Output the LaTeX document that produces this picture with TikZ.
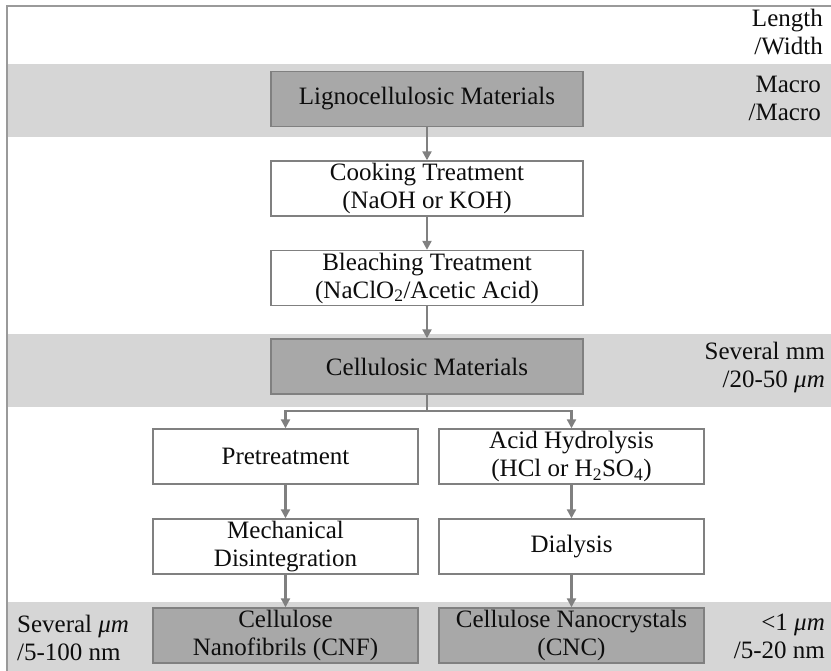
\documentclass[tikz,border=0pt]{standalone}
\usepackage{fontspec}
\setmainfont{Liberation Serif}
\usetikzlibrary{arrows.meta}
\definecolor{bandgray}{HTML}{D6D6D6}
\definecolor{darkbox}{HTML}{A8A8A8}
\definecolor{edgegray}{HTML}{808080}
\definecolor{framegray}{HTML}{9A9A9A}
\definecolor{txt}{HTML}{0D0D0D}
\begin{document}
\begin{tikzpicture}[x=1pt,y=-1pt,
  every node/.style={font=\fontsize{25}{28}\selectfont, text=txt},
  boxbase/.style={draw=edgegray, line width=1.4pt, align=center, inner sep=0pt, minimum height=55pt},
  mainbox/.style={boxbase, minimum width=312pt},
  colbox/.style={boxbase, minimum width=265pt},
  whitebox/.style={fill=white},
  graybox/.style={fill=darkbox},
  flow/.style={draw=edgegray, line width=2.2pt, -{Triangle[length=9pt,width=9pt]}},
  flowline/.style={draw=edgegray, line width=2.2pt},
  sidelabel/.style={inner sep=0pt, align=right, anchor=east},
  leftlabel/.style={inner sep=0pt, align=left, anchor=west}
]
\useasboundingbox (0,0) rectangle (831,671);
\fill[white] (0,0) rectangle (831,671);
% bands
\fill[bandgray] (7,64) rectangle (831,137);
\fill[bandgray] (7,334) rectangle (831,407);
\fill[bandgray] (7,602) rectangle (831,671);
% frame
\draw[framegray, line width=1.5pt] (7,671) -- (7,6) -- (831,6);

% nodes
\node[mainbox, graybox] (lig) at (427,99) {Lignocellulosic Materials};
\node[mainbox, whitebox] (cook) at (427,188.5) {Cooking Treatment\\(NaOH or KOH)};
\node[mainbox, whitebox] (bleach) at (427,278) {Bleaching Treatment\\(NaClO\textsubscript{2}/Acetic Acid)};
\node[mainbox, graybox] (cell) at (427,366.5) {Cellulosic Materials};
\node[colbox, whitebox] (pre) at (285.5,456.5) {Pretreatment};
\node[colbox, whitebox] (acid) at (571.5,456.5) {Acid Hydrolysis\\(HCl or H\textsubscript{2}SO\textsubscript{4})};
\node[colbox, whitebox] (mech) at (285.5,546.5) {Mechanical\\Disintegration};
\node[colbox, whitebox] (dial) at (571.5,546.5) {Dialysis};
\node[colbox, graybox] (cnf) at (285.5,635.5) {Cellulose\\Nanofibrils (CNF)};
\node[colbox, graybox] (cnc) at (571.5,635.5) {Cellulose Nanocrystals\\(CNC)};

% side labels
\node[sidelabel] (l1) at (823,32) {Length\\/Width};
\node[sidelabel] (l2) at (821,98.5) {Macro\\/Macro};
\node[sidelabel] (l3) at (825,367.5) {Several mm\\/20-50 \textit{μm}};
\node[sidelabel] (l4) at (825,636) {<1 \textit{μm}\\/5-20 nm};
\node[leftlabel] (l5) at (17,638) {Several \textit{μm}\\/5-100 nm};

% connectors
\draw[flow] (lig) -- (cook);
\draw[flow] (cook) -- (bleach);
\draw[flow] (bleach) -- (cell);
\coordinate (split) at (427,411);
\draw[flowline] (cell.south) -- (split);
\draw[flow] (split) -| (pre.north);
\draw[flow] (split) -| (acid.north);
\draw[flow] (pre) -- (mech);
\draw[flow] (acid) -- (dial);
\draw[flow] (mech) -- (cnf);
\draw[flow] (dial) -- (cnc);
\end{tikzpicture}
\end{document}
